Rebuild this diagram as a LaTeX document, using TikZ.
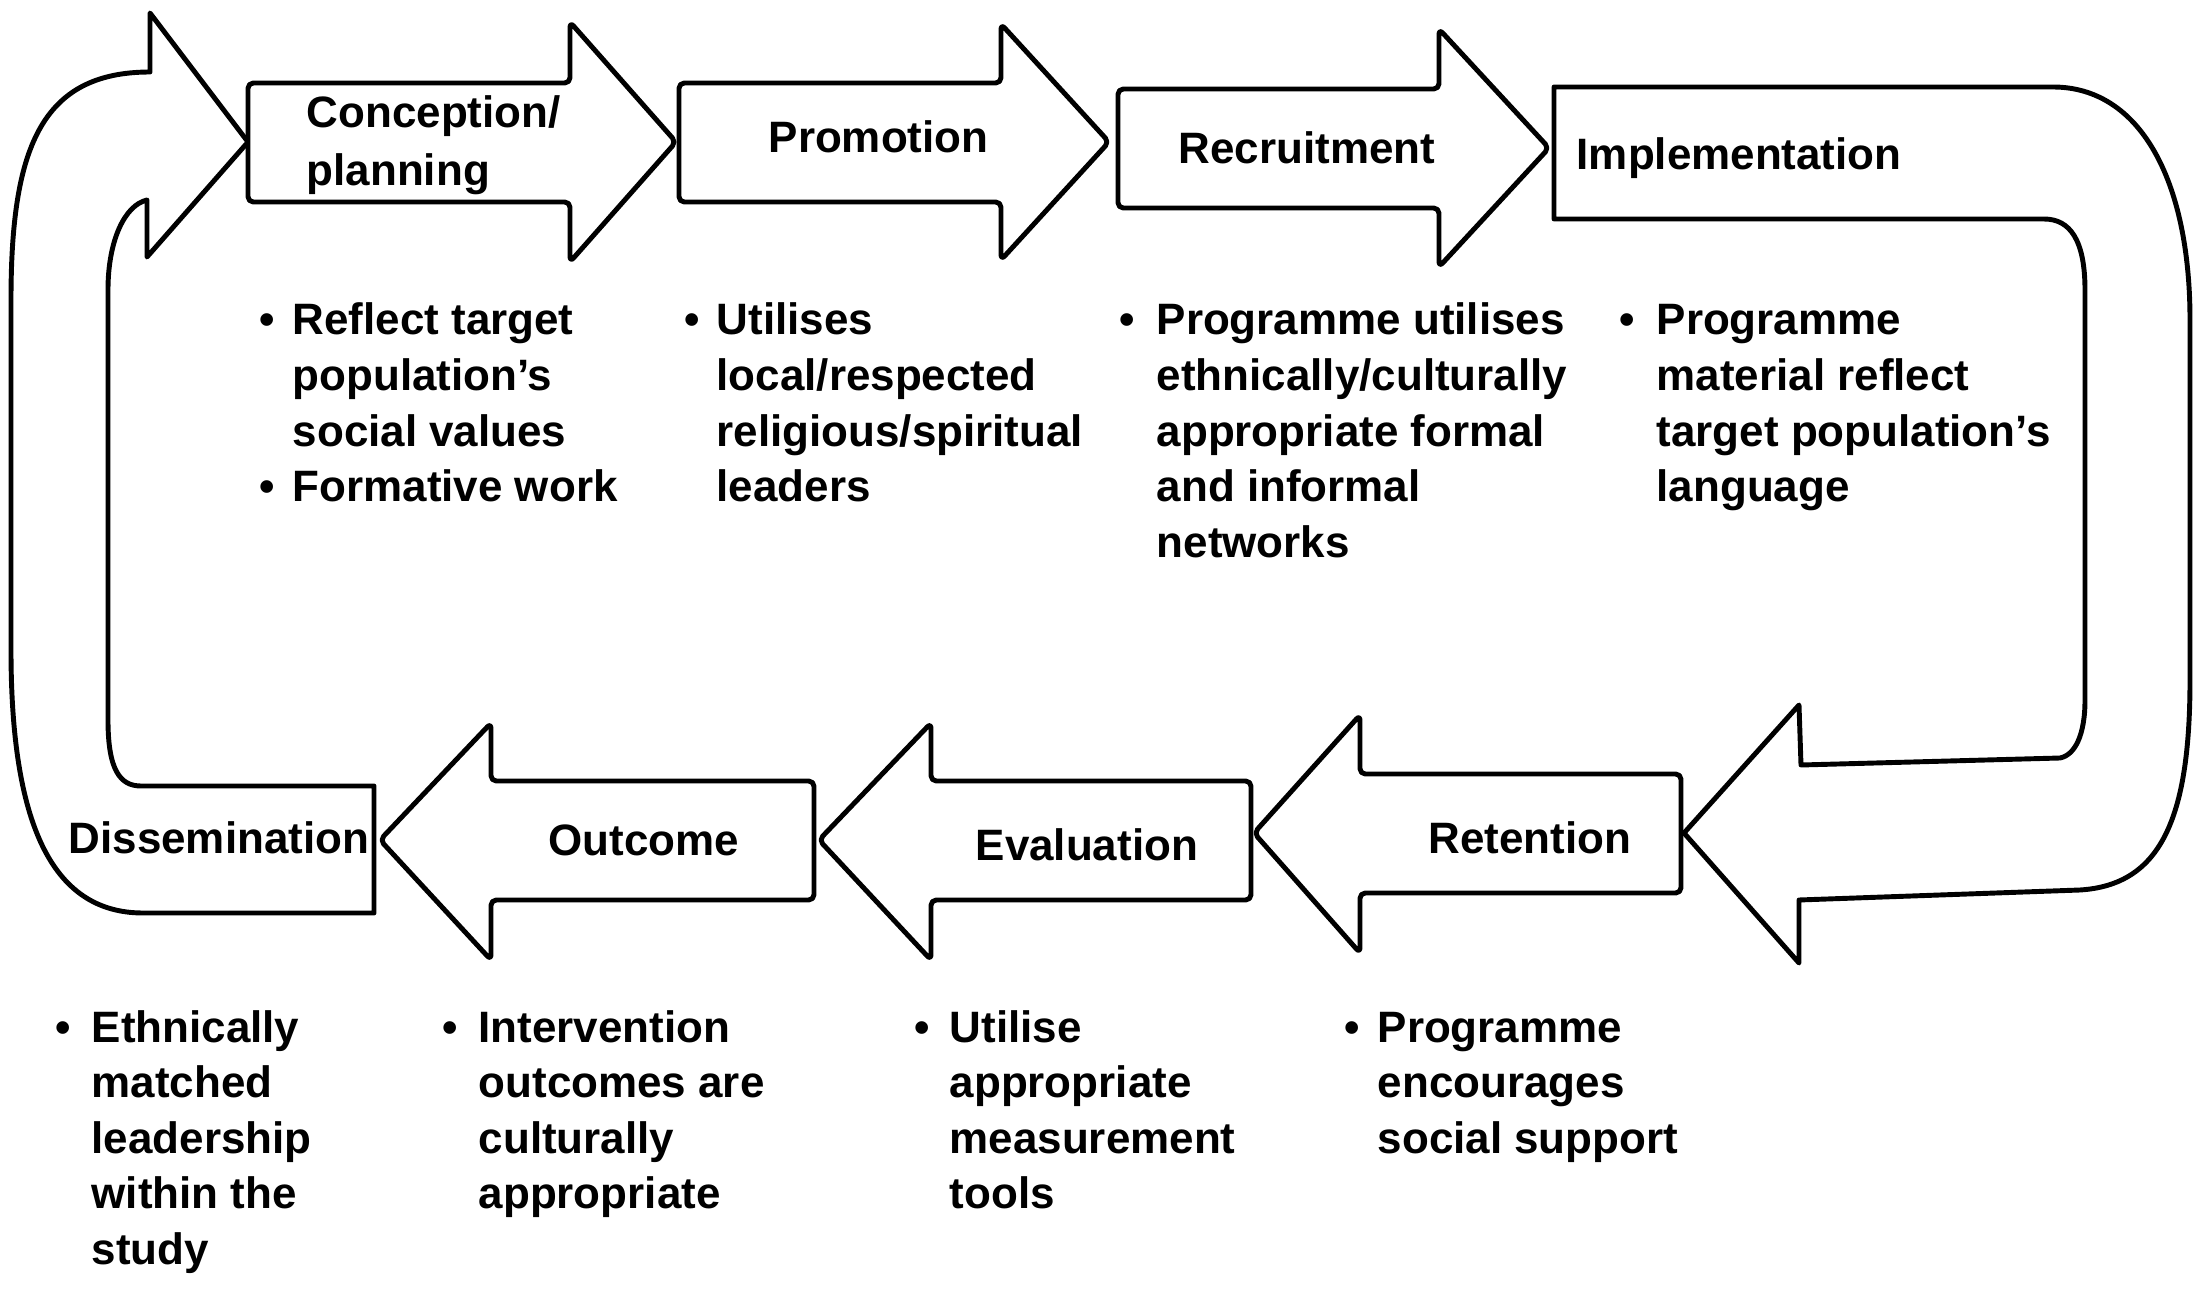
\documentclass[tikz,border=0pt]{standalone}
\usepackage{fontspec}
\setmainfont{Liberation Sans}
\begin{document}
\begin{tikzpicture}[x=0.01cm,y=-0.01cm]
\tikzset{
  shp/.style={draw=black, line width=1.4pt, fill=white, line join=round},
  straightarrow/.style={shp, rounded corners=1.5pt},
  lbl/.style={anchor=base west, inner sep=0pt, font=\bfseries\fontsize{12.5}{15.8}\selectfont},
  bul/.style={anchor=base, inner sep=0pt, font=\bfseries\fontsize{12.5}{15.8}\selectfont},
}
\useasboundingbox[fill=white] (0,0) rectangle (2205,1297);

% left loop (Dissemination -> Conception)
\draw[shp] (374,786) -- (141,786) .. controls (120,786) and (108,770) .. (108,720)
  -- (108,290) .. controls (108,240) and (125,205) .. (147,200)
  -- (147,257) -- (248,142) -- (150,13) -- (150,72)
  .. controls (40,72) and (11,150) .. (11,300)
  -- (11,650) .. controls (11,820) and (50,913) .. (143,913)
  -- (374,913) -- cycle;

% right loop (Implementation -> Retention)
\draw[shp] (1554,87) -- (2053,87) .. controls (2140,87) and (2190,180) .. (2190,320)
  -- (2190,680) .. controls (2190,820) and (2160,885) .. (2080,890)
  -- (1799,900) -- (1799,963) -- (1684,833) -- (1799,705) -- (1801,765)
  -- (2060,758) .. controls (2075,755) and (2085,735) .. (2085,700)
  -- (2085,290) .. controls (2085,240) and (2070,219) .. (2044,219)
  -- (1554,219) -- cycle;

% top row arrows
\draw[straightarrow] (248,83) -- (570,83) -- (570,22) -- (676,142) -- (570,262) -- (570,202) -- (248,202) -- cycle;
\draw[straightarrow] (679,83) -- (1001,83) -- (1001,24) -- (1109,142) -- (1001,260) -- (1001,202) -- (679,202) -- cycle;
\draw[straightarrow] (1118,89) -- (1439,89) -- (1439,29) -- (1549,148) -- (1439,267) -- (1439,208) -- (1118,208) -- cycle;

% bottom row arrows
\draw[straightarrow] (1681,774) -- (1360,774) -- (1360,715) -- (1254,833) -- (1360,953) -- (1360,893) -- (1681,893) -- cycle;
\draw[straightarrow] (1251,781) -- (931,781) -- (931,723) -- (819,840) -- (931,960) -- (931,900) -- (1251,900) -- cycle;
\draw[straightarrow] (814,781) -- (491,781) -- (491,723) -- (380,840) -- (491,960) -- (491,900) -- (814,900) -- cycle;

% labels
\node[lbl] (lcon1) at (306,128) {Conception/};
\node[lbl] (lcon2) at (306,186) {planning};
\node[lbl] (lpro) at (768,153) {Promotion};
\node[lbl] (lrec) at (1178,164) {Recruitment};
\node[lbl] (limp) at (1576,170) {Implementation};
\node[lbl] (ldis) at (68,853) {Dissemination};
\node[lbl] (lout) at (548,855) {Outcome};
\node[lbl] (leva) at (975,860) {Evaluation};
\node[lbl] (lret) at (1428,853) {Retention};

% top bullet columns
\node[bul] (b1a) at (267,335) {•};
\node[bul] (b1b) at (267,501.5) {•};
\node[lbl] (t1) at (292,335) {\begin{tabular}[t]{@{}l@{}}Reflect target\\population's\\social values\\Formative work\end{tabular}};
\node[bul] (b2) at (692,335) {•};
\node[lbl] (t2) at (716,335) {\begin{tabular}[t]{@{}l@{}}Utilises\\local/respected\\religious/spiritual\\leaders\end{tabular}};
\node[bul] (b3) at (1127,335) {•};
\node[lbl] (t3) at (1156,335) {\begin{tabular}[t]{@{}l@{}}Programme utilises\\ethnically/culturally\\appropriate formal\\and informal\\networks\end{tabular}};
\node[bul] (b4) at (1627,335) {•};
\node[lbl] (t4) at (1656,335) {\begin{tabular}[t]{@{}l@{}}Programme\\material reflect\\target population's\\language\end{tabular}};

% bottom bullet columns
\node[bul] (b5) at (63,1042) {•};
\node[lbl] (t5) at (91,1042) {\begin{tabular}[t]{@{}l@{}}Ethnically\\matched\\leadership\\within the\\study\end{tabular}};
\node[bul] (b6) at (450,1042) {•};
\node[lbl] (t6) at (478,1042) {\begin{tabular}[t]{@{}l@{}}Intervention\\outcomes are\\culturally\\appropriate\end{tabular}};
\node[bul] (b7) at (922,1042) {•};
\node[lbl] (t7) at (949,1042) {\begin{tabular}[t]{@{}l@{}}Utilise\\appropriate\\measurement\\tools\end{tabular}};
\node[bul] (b8) at (1352,1042) {•};
\node[lbl] (t8) at (1377,1042) {\begin{tabular}[t]{@{}l@{}}Programme\\encourages\\social support\end{tabular}};
\end{tikzpicture}
\end{document}
